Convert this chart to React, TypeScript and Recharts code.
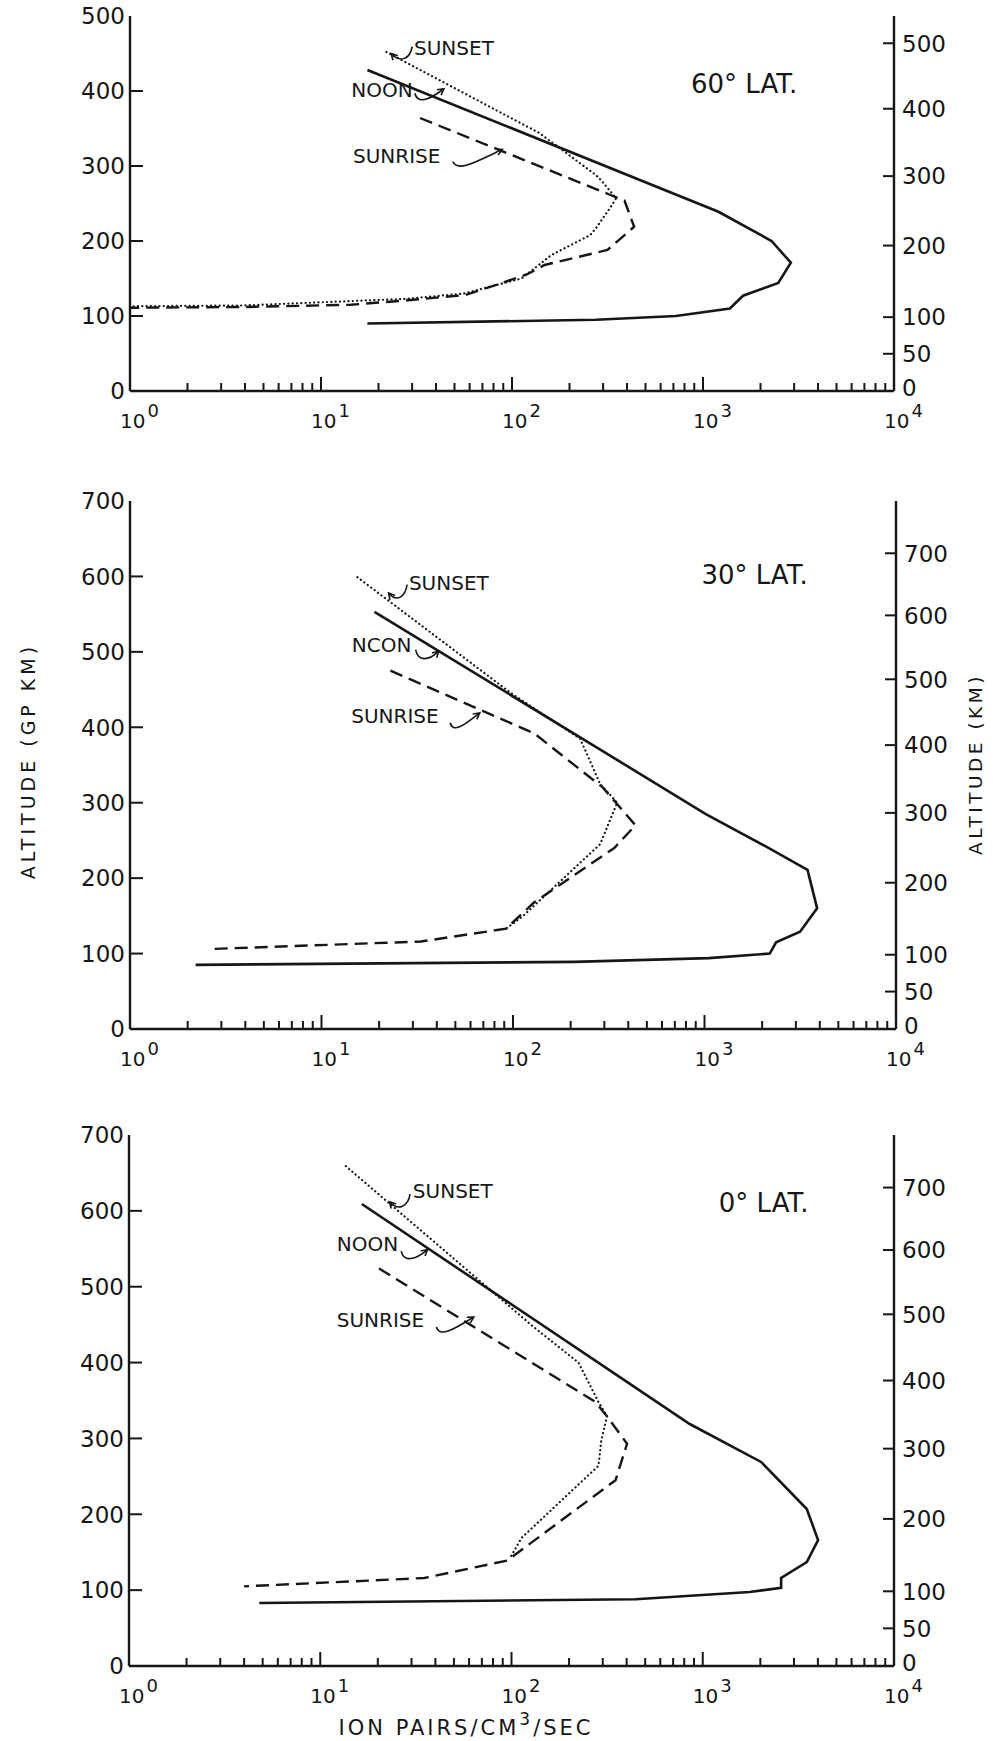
import React from 'react';
import { LineChart, Line, XAxis, YAxis, ReferenceDot, ReferenceLine } from 'recharts';

const FONT = '"DejaVu Sans", Verdana, sans-serif';
const INK = '#161616';
const EARTH_R = 6371;

type Pt = { rate: number; alt: number };
const pts = (rows: number[][]): Pt[] => rows.map(([rate, alt]) => ({ rate, alt }));

// Ion-pair production rate (ion pairs / cm^3 / s) against geopotential altitude (GP km)

// 60° latitude
const noon60 = pts([[17.5, 428], [1205, 239], [2285, 200], [2884, 171], [2478, 144], [1620, 127], [1383, 110], [721, 100], [275, 95], [17.5, 90]]);
const sunrise60 = pts([[33, 364], [323, 262], [388, 254], [436, 219], [316, 188], [148, 168], [121, 156], [86, 143], [57, 128], [28.5, 121], [14.3, 115], [3.9, 112], [1, 111]]);
const sunset60 = pts([[22, 452], [139, 344], [275, 288], [295, 280], [351, 257], [334, 248], [275, 217], [257, 208], [160, 181], [138, 168], [112, 150], [56, 130], [28.5, 123], [3.9, 114], [1, 113]]);

// 30° latitude
const noon30 = pts([[18.9, 553], [1016, 285], [2089, 242], [3451, 211], [3873, 160], [3155, 129], [2365, 115], [2192, 100], [1051, 94], [209, 89], [2.2, 85]]);
const sunrise30 = pts([[22.9, 475], [129, 392], [295, 320], [436, 270], [338, 240], [129, 168], [92, 133], [33, 116], [2.6, 106]]);
const sunset30 = pts([[15.4, 599], [98, 445], [224, 385], [285, 325], [350, 300], [285, 245], [113, 150], [92, 133]]);

// 0° latitude
const noon0 = pts([[16.5, 609], [416, 372], [855, 319], [2018, 269], [3499, 207], [4010, 166], [3499, 137], [2569, 116], [2569, 103], [1759, 97.5], [445, 88], [4.8, 83]]);
const sunrise0 = pts([[20.3, 524], [275, 348], [316, 329], [402, 293], [350, 245], [95, 139], [35, 116], [4, 105]]);
const sunset0 = pts([[13.6, 659], [129, 448], [224, 400], [285, 348], [316, 329], [295, 298], [285, 264], [113, 169], [98, 142]]);

// axis ticks
const majorRates = [1, 10, 100, 1000, 10000];
const minorSteps = [2, 3, 4, 5, 6, 7, 8, 9];
const rateTicks = [
  ...majorRates,
  ...majorRates.slice(0, -1).flatMap((d) => minorSteps.map((m) => d * m)),
].sort((a, b) => a - b);

const gpTicks500 = [0, 100, 200, 300, 400, 500];
const gpTicks700 = [0, 100, 200, 300, 400, 500, 600, 700];
const kmTicks500 = [0, 50, 100, 200, 300, 400, 500];
const kmTicks700 = [0, 50, 100, 200, 300, 400, 500, 600, 700];

// geometric km <-> geopotential km
const toGeopotential = (km: number) => (km * EARTH_R) / (EARTH_R + km);
const toGeometric = (gp: number) => (gp * EARTH_R) / (EARTH_R - gp);

type Note = { text: string; rate: number; alt: number; size?: number };
type Arrow = { from: [number, number]; to: [number, number] };

const notes60: Note[] = [
  { text: 'SUNSET', rate: 30.7, alt: 458 },
  { text: 'NOON', rate: 14.4, alt: 402 },
  { text: 'SUNRISE', rate: 14.7, alt: 314 },
  { text: '60° LAT.', rate: 865, alt: 410, size: 26 },
];
const arrows60: Arrow[] = [
  { from: [30, 459], to: [23.3, 450] },
  { from: [31, 397], to: [44, 403] },
  { from: [49, 306], to: [89, 322] },
];

const notes30: Note[] = [
  { text: 'SUNSET', rate: 28.6, alt: 592 },
  { text: 'NCON', rate: 14.4, alt: 510 },
  { text: 'SUNRISE', rate: 14.3, alt: 415 },
  { text: '30° LAT.', rate: 964, alt: 603, size: 26 },
];
const arrows30: Arrow[] = [
  { from: [28, 589], to: [22.4, 578] },
  { from: [31, 503], to: [41, 501] },
  { from: [47, 406], to: [67, 419] },
];

const notes0: Note[] = [
  { text: 'SUNSET', rate: 30.5, alt: 626 },
  { text: 'NOON', rate: 12.2, alt: 556 },
  { text: 'SUNRISE', rate: 12.2, alt: 457 },
  { text: '0° LAT.', rate: 1213, alt: 611, size: 26 },
];
const arrows0: Arrow[] = [
  { from: [29.5, 622], to: [23, 612] },
  { from: [26.5, 547], to: [36.4, 549] },
  { from: [40.5, 447], to: [63.5, 460] },
];

const RateTick = (props: any) => {
  const { x, y, payload } = props;
  const v: number = payload.value;
  const lg = Math.log10(v);
  const exp = Math.round(lg);
  const major = Math.abs(lg - exp) < 1e-6;
  return (
    <g>
      {v > 1 && v < 10000 && (
        <line x1={x} x2={x} y1={y} y2={y - (major ? 14 : 8)} stroke={INK} strokeWidth={2} />
      )}
      {major && (
        <text x={x - 10} y={y + 37} fontFamily={FONT} fontSize={20} fill={INK}>
          10
          <tspan dx={2} dy={-11} fontSize={18}>
            {exp}
          </tspan>
        </text>
      )}
    </g>
  );
};

const makeGpTick = (max: number) => (props: any) => {
  const { x, y, payload } = props;
  const v: number = payload.value;
  return (
    <g>
      {v > 0 && v < max && <line x1={x} x2={x + 13} y1={y} y2={y} stroke={INK} strokeWidth={2} />}
      <text x={x - 5} y={y} dy="0.36em" textAnchor="end" fontFamily={FONT} fontSize={23} fill={INK}>
        {v}
      </text>
    </g>
  );
};

const KmTick = (props: any) => {
  const { x, y, payload } = props;
  const km = Math.round(toGeometric(payload.value));
  return (
    <g>
      {km > 0 && <line x1={x} x2={x - 11} y1={y} y2={y} stroke={INK} strokeWidth={2} />}
      <text x={x + 8} y={y} dy={km > 0 ? '0.36em' : '0.2em'} textAnchor="start" fontFamily={FONT} fontSize={23} fill={INK}>
        {km}
      </text>
    </g>
  );
};

// small hand-drawn style pointer: curls from the label to the curve
const CurlArrow = (props: any) => {
  const { x1, y1, x2, y2 } = props;
  const dx = x2 - x1;
  const c1x = x1 + dx * 0.1;
  const c1y = y1 + 12;
  const c2x = x1 + dx * 0.55;
  const c2y = y2 + 10;
  const ang = Math.atan2(y2 - c2y, x2 - c2x);
  const head = 7;
  const a1 = ang + Math.PI - 0.5;
  const a2 = ang + Math.PI + 0.5;
  return (
    <g fill="none" stroke={INK} strokeWidth={1.6}>
      <path d={`M${x1},${y1} C${c1x},${c1y} ${c2x},${c2y} ${x2},${y2}`} />
      <path
        d={`M${x2 + head * Math.cos(a1)},${y2 + head * Math.sin(a1)} L${x2},${y2} L${x2 + head * Math.cos(a2)},${y2 + head * Math.sin(a2)}`}
      />
    </g>
  );
};

type PanelProps = {
  top: number;
  height: number;
  margin: { top: number; right: number; bottom: number; left: number };
  altMax: number;
  gpTicks: number[];
  kmTicks: number[];
  noon: Pt[];
  sunrise: Pt[];
  sunset: Pt[];
  notes: Note[];
  arrows: Arrow[];
};

const frame = { stroke: INK, strokeWidth: 2.4 };

function Panel(p: PanelProps) {
  const GpTick = makeGpTick(p.altMax);
  return (
    <div style={{ position: 'absolute', left: 0, top: p.top }}>
      <LineChart width={993} height={p.height} margin={p.margin}>
        <XAxis
          dataKey="rate"
          type="number"
          scale="log"
          domain={[1, 10000]}
          allowDataOverflow
          ticks={rateTicks}
          interval={0}
          tick={(t: any) => <RateTick {...t} />}
          tickLine={false}
          tickSize={0}
          tickMargin={0}
          height={40}
          axisLine={frame}
        />
        <XAxis
          xAxisId="top"
          orientation="top"
          type="number"
          scale="log"
          domain={[1, 10000]}
          allowDataOverflow
          tick={false}
          tickLine={false}
          height={0}
          axisLine={frame}
        />
        <YAxis
          type="number"
          domain={[0, p.altMax]}
          allowDataOverflow
          ticks={p.gpTicks}
          interval={0}
          tick={(t: any) => <GpTick {...t} />}
          tickLine={false}
          tickSize={0}
          tickMargin={0}
          width={60}
          axisLine={frame}
        />
        <YAxis
          yAxisId="km"
          orientation="right"
          type="number"
          domain={[0, p.altMax]}
          allowDataOverflow
          ticks={p.kmTicks.map(toGeopotential)}
          interval={0}
          tick={(t: any) => <KmTick {...t} />}
          tickLine={false}
          tickSize={0}
          tickMargin={0}
          width={60}
          axisLine={frame}
        />
        <Line
          data={p.sunset}
          dataKey="alt"
          type="linear"
          stroke={INK}
          strokeWidth={2.2}
          strokeDasharray="0.1 4.2"
          strokeLinecap="round"
          dot={false}
          activeDot={false}
          isAnimationActive={false}
        />
        <Line
          data={p.sunrise}
          dataKey="alt"
          type="linear"
          stroke={INK}
          strokeWidth={2.4}
          strokeDasharray="13 7"
          dot={false}
          activeDot={false}
          isAnimationActive={false}
        />
        <Line
          data={p.noon}
          dataKey="alt"
          type="linear"
          stroke={INK}
          strokeWidth={2.6}
          dot={false}
          activeDot={false}
          isAnimationActive={false}
        />
        {p.arrows.map((a, i) => (
          <ReferenceLine
            key={`ar${i}`}
            segment={[
              { x: a.from[0], y: a.from[1] },
              { x: a.to[0], y: a.to[1] },
            ]}
            shape={(s: any) => <CurlArrow {...s} />}
          />
        ))}
        {p.notes.map((n, i) => (
          <ReferenceDot
            key={`nt${i}`}
            x={n.rate}
            y={n.alt}
            r={0}
            shape={(s: any) => (
              <text
                x={s.cx}
                y={s.cy}
                dy="0.36em"
                fontFamily={FONT}
                fontSize={n.size ?? 20}
                fill={INK}
              >
                {n.text}
              </text>
            )}
          />
        ))}
      </LineChart>
    </div>
  );
}

export default function App() {
  return (
    <div style={{ position: 'absolute', left: 0, top: 0, width: 993, height: 1741, background: '#fff' }}>
      <Panel
        top={0}
        height={440}
        margin={{ top: 16, right: 39, bottom: 9, left: 70 }}
        altMax={500}
        gpTicks={gpTicks500}
        kmTicks={kmTicks500}
        noon={noon60}
        sunrise={sunrise60}
        sunset={sunset60}
        notes={notes60}
        arrows={arrows60}
      />
      <Panel
        top={460}
        height={620}
        margin={{ top: 41, right: 37, bottom: 11, left: 70 }}
        altMax={700}
        gpTicks={gpTicks700}
        kmTicks={kmTicks700}
        noon={noon30}
        sunrise={sunrise30}
        sunset={sunset30}
        notes={notes30}
        arrows={arrows30}
      />
      <Panel
        top={1095}
        height={646}
        margin={{ top: 40, right: 39, bottom: 35, left: 69 }}
        altMax={700}
        gpTicks={gpTicks700}
        kmTicks={kmTicks700}
        noon={noon0}
        sunrise={sunrise0}
        sunset={sunset0}
        notes={notes0}
        arrows={arrows0}
      />
      <svg
        width={993}
        height={1741}
        style={{ position: 'absolute', left: 0, top: 0, pointerEvents: 'none' }}
      >
        <text
          transform="translate(35,761) rotate(-90)"
          textAnchor="middle"
          fontFamily={FONT}
          fontSize={19}
          letterSpacing={4}
          fill={INK}
        >
          ALTITUDE (GP KM)
        </text>
        <text
          transform="translate(982,764) rotate(-90)"
          textAnchor="middle"
          fontFamily={FONT}
          fontSize={18.5}
          letterSpacing={3.5}
          fill={INK}
        >
          ALTITUDE (KM)
        </text>
        <text x={466} y={1735} textAnchor="middle" fontFamily={FONT} fontSize={21} letterSpacing={3} fill={INK}>
          ION PAIRS/CM
          <tspan dy={-10} fontSize={17}>
            3
          </tspan>
          <tspan dy={10}>/SEC</tspan>
        </text>
      </svg>
    </div>
  );
}
